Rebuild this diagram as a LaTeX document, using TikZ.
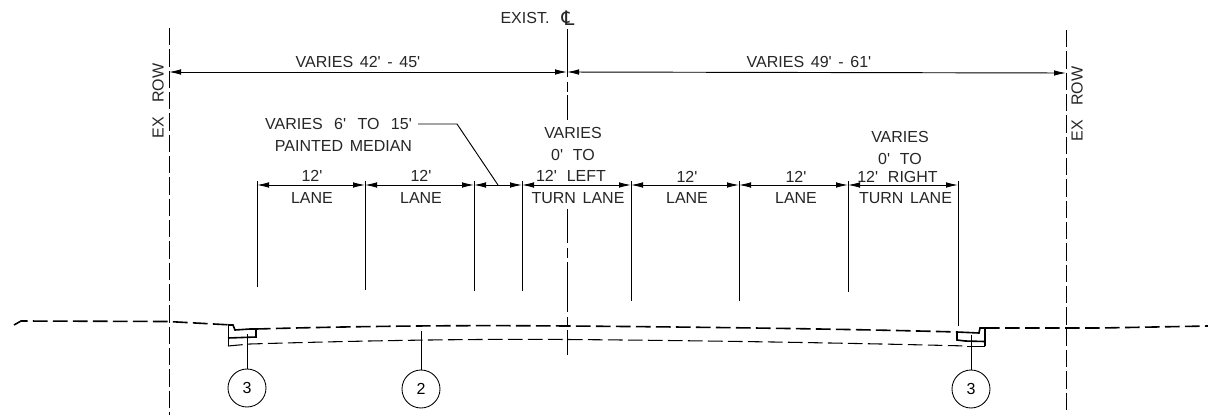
\documentclass[tikz,border=0pt]{standalone}
\usepackage{fontspec}
\usetikzlibrary{arrows.meta}
\newfontfamily\cad[WordSpace=1.5]{Liberation Sans}
\newfontfamily\cadsym{DejaVu Sans}
\tikzset{
  lbl/.style={inner sep=0pt,font=\cad\fontsize{12pt}{13pt}\selectfont,text=black!85},
  rowline/.style={line width=0.75pt,dash pattern=on 13pt off 3pt},
  road/.style={line width=1.2pt,dash pattern=on 11pt off 4pt},
  subbase/.style={line width=0.8pt,dash pattern=on 11pt off 4pt},
  thick line/.style={line width=1.2pt},
  thin line/.style={line width=0.7pt},
  dimline/.style={line width=0.7pt,{Latex[length=9pt,width=4.2pt]}-{Latex[length=9pt,width=4.2pt]}},
  tag/.style={circle,draw,line width=0.65pt,minimum size=28.5pt,inner sep=0pt,font=\cad\fontsize{12pt}{13pt}\selectfont},
}
\begin{document}
\begin{tikzpicture}[x=0.75pt,y=-0.75pt]
\useasboundingbox[fill=white] (0,0) rectangle (1208,415);
% reference coordinates
\coordinate (rowLt) at (169,28);  \coordinate (rowLb) at (169,415);
\coordinate (rowRt) at (1066,30); \coordinate (rowRb) at (1066,412);
\coordinate (dimL) at (169,72); \coordinate (dimC) at (567,72); \coordinate (dimR) at (1066,73);
\foreach \n/\a/\b in {1/29/77,2/82/92,3/95/120,4/209/243,5/248/258,6/262/312,7/317/327,8/330/355}{
  \coordinate (clA\n) at (567,\a);
  \coordinate (clB\n) at (567,\b);
  \draw[thin line] (clA\n) -- (clB\n);
}
\foreach \n/\x/\e in {1/257/287,2/365/290,3/474/291,4/522/291,5/631/301,6/739/301,7/848/292,8/958/326}{
  \coordinate (t\n) at (\x,181);
  \coordinate (d\n) at (\x,185);
  \coordinate (b\n) at (\x,\e);
}
% ROW lines
\draw[rowline] (rowLt) -- (rowLb);
\draw[rowline] (rowRt) -- (rowRb);
% top dimensions
\draw[dimline] (dimL) -- (dimC);
\draw[dimline] (dimC) -- (dimR);
% lane dimension ticks and arrows
\foreach \n in {1,...,8}{\draw[thin line] (t\n) -- (b\n);}
\foreach \a/\b in {1/2,2/3,3/4,4/5,5/6,6/7,7/8}{\draw[dimline] (d\a) -- (d\b);}
% labels
\node[lbl] (exist) at (525,18) {EXIST.};
\node[inner sep=0pt,font=\cadsym\fontsize{15pt}{16pt}\selectfont,text=black!85] (clsym) at (568,18) {℄};
\node[lbl,rotate=90] (rowL) at (158,101) {EX\hspace{0.45em} ROW};
\node[lbl,rotate=90] (rowR) at (1077,104) {EX\hspace{0.45em} ROW};
\node[lbl] (v1) at (358,62) {VARIES 42' - 45'};
\node[lbl] (v2) at (809,62) {VARIES 49' - 61'};
\node[lbl] (med1) at (338.5,124) {VARIES\hspace{0.3em} 6'\hspace{0.3em} TO\hspace{0.3em} 15'};
\node[lbl] (med2) at (343.5,146) {PAINTED MEDIAN};
\coordinate (medA) at (418,124); \coordinate (medB) at (457,124); \coordinate (medC) at (498,185);
\draw[thin line] (medA) -- (medB) -- (medC);
\node[lbl] (a1) at (312,176) {12'};
\node[lbl] (a2) at (421,176) {12'};
\node[lbl] (a3) at (687,177) {12'};
\node[lbl] (a4) at (796,177) {12'};
\node[lbl] (l1) at (312,198) {LANE};
\node[lbl] (l2) at (421,198) {LANE};
\node[lbl] (l3) at (687,198) {LANE};
\node[lbl] (l4) at (796,198) {LANE};
\node[lbl] (tl1) at (573,133) {VARIES};
\node[lbl] (tl2) at (573,155) {0'\hspace{0.2em} TO};
\node[lbl] (tl3) at (571,176) {12'\hspace{0.2em} LEFT};
\node[lbl] (tl4) at (578,198) {TURN LANE};
\node[lbl] (tr1) at (900,137) {VARIES};
\node[lbl] (tr2) at (900,159) {0'\hspace{0.2em} TO};
\node[lbl] (tr3) at (897.5,177) {12'\hspace{0.2em} RIGHT};
\node[lbl] (tr4) at (905.5,198) {TURN LANE};
% pavement surface
\draw[road] (14,325) -- (21,321) -- (168,321.5) -- (232,325);
\draw[road] (256,329) .. controls (400,325) and (500,325.5) .. (567,326) .. controls (700,327) and (850,329) .. (957,332);
\draw[road] (985,328) -- (1100,328) -- (1208,326);
% subbase
\draw[subbase] (228,346) -- (250,344) .. controls (400,339.5) and (500,339) .. (567,339.5) .. controls (700,340.5) and (850,343) .. (967,346);
% left curb
\draw[thick line] (228,325) -- (233,325) -- (235,330) -- (250,329) -- (256,329) -- (256,337) -- (228,338);
\draw[thin line] (228,324) -- (228,346);
% right curb
\draw[thick line] (957,332) -- (957,340) -- (965,341) -- (985,341.5);
\draw[thick line] (957,332) -- (979,333) -- (980,328) -- (985,328) -- (985,346);
\draw[thin line] (967,346) -- (985,346);
% callouts
\node[tag] (c1) at (247,388) {3};
\node[tag] (c2) at (421,389) {2};
\node[tag] (c3) at (971,389) {3};
\coordinate (p1) at (247,334); \coordinate (p2) at (421,331); \coordinate (p3) at (971,335);
\draw[thin line] (p1) -- (c1);
\draw[thin line] (p2) -- (c2);
\draw[thin line] (p3) -- (c3);
\end{tikzpicture}
\end{document}
